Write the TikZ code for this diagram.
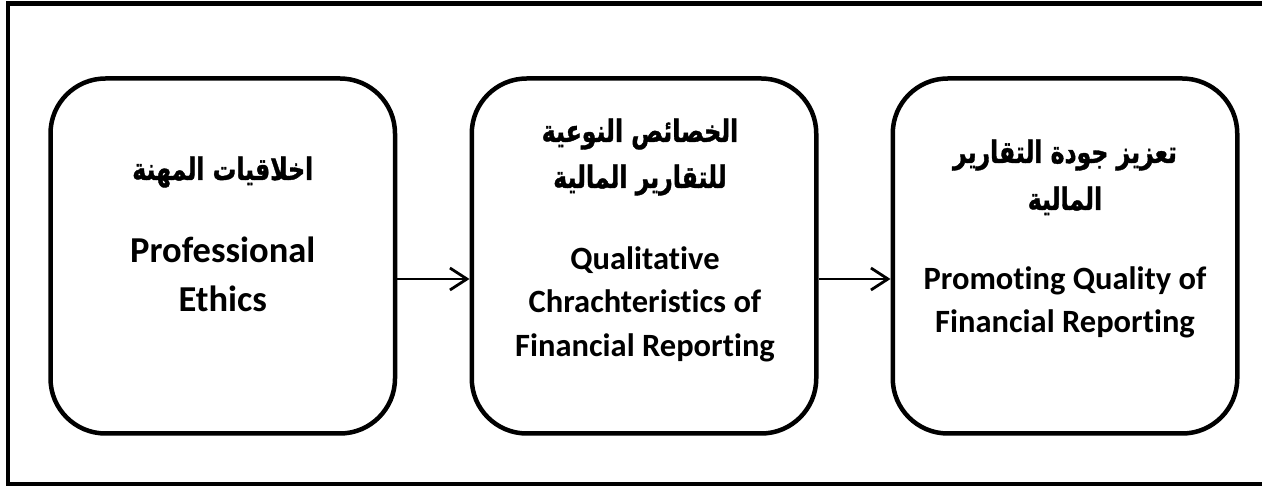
\documentclass[tikz,border=0pt]{standalone}
\usepackage{fontspec}
\setmainfont{Carlito}[Ligatures=NoCommon]
\newfontfamily\arabicfont[Script=Arabic,FakeStretch=0.76,BoldFeatures={FakeBold=1.2}]{DejaVu Sans}
\TeXXeTstate=1
\usetikzlibrary{arrows.meta}
\begin{document}
\begin{tikzpicture}[x=1pt,y=-1pt,
  box/.style={draw, line width=4.5pt, rounded corners=55pt, minimum width=344.5pt, minimum height=355pt, inner sep=0pt},
  en/.style={font=\fontsize{32.5}{36}\selectfont\bfseries, anchor=base, inner sep=0pt},
  enbig/.style={font=\fontsize{36.5}{40}\selectfont\bfseries, anchor=base, inner sep=0pt},
  ar/.style={font=\arabicfont\fontsize{31}{36}\selectfont\bfseries, anchor=base, inner sep=0pt},
  conn/.style={line width=2pt, -{Straight Barb[length=17pt,width=22pt,line width=2.8pt]}}]
\useasboundingbox (0,0) rectangle (1262,486);
\clip (0,0) rectangle (1262,486);
\draw[line width=4.5pt] (8,3.5) rectangle (1270,484);
\node[box] (b1) at (222.75,256) {};
\node[box] (b2) at (644,256) {};
\node[box] (b3) at (1065,256) {};
% box 1
\node[ar] (t1a) at (222.75,180) {\beginR اخلاقيات المهنة\endR};
\node[enbig] (t1b) at (222.75,263) {Professional};
\node[enbig] (t1c) at (222.75,312) {Ethics};
% box 2
\node[ar] (t2a) at (640,142) {\beginR الخصائص النوعية\endR};
\node[ar] (t2b) at (640,188) {\beginR للتقارير المالية\endR};
\node[en] (t2c) at (645,270) {Qualitative};
\node[en] (t2d) at (645,313) {Chrachteristics of};
\node[en] (t2e) at (645,357) {Financial Reporting};
% box 3
\node[ar] (t3a) at (1065,163) {\beginR تعزيز جودة التقارير\endR};
\node[ar] (t3b) at (1065,210) {\beginR المالية\endR};
\node[en] (t3c) at (1065,290) {Promoting Quality of};
\node[en] (t3d) at (1065,333) {Financial Reporting};
% connectors
\draw[conn] ([yshift=-23pt]b1.east) -- ([yshift=-23pt]b2.west);
\draw[conn] ([yshift=-23pt]b2.east) -- ([yshift=-23pt]b3.west);
\end{tikzpicture}
\end{document}
